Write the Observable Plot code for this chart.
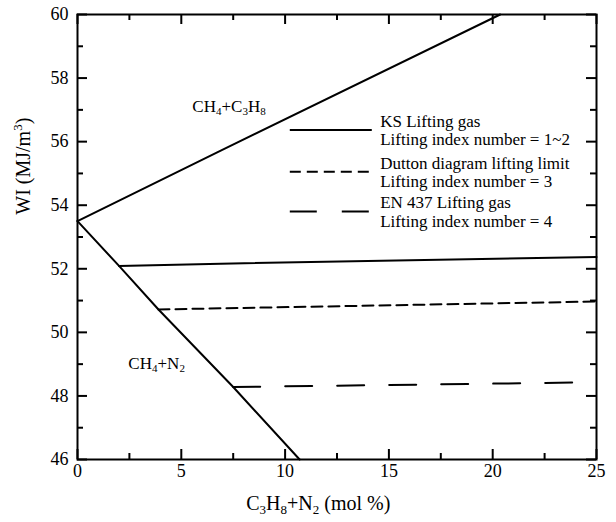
<!DOCTYPE html>
<html><head><meta charset="utf-8">
<script src="https://cdn.jsdelivr.net/npm/d3@7"></script>
<script src="https://cdn.jsdelivr.net/npm/@observablehq/plot@0.6"></script>
<style>
body{margin:0;background:#fff}
</style>
</head><body><div id="chart"></div>
<script>
// ---- data ----
const propaneX  = [0, 6.9, 20.36];
const propaneWI = [53.5, 55.72, 60];
const nitrogenX  = [0, 2.0, 3.9, 7.5, 10.7];
const nitrogenWI = [53.5, 52.09, 50.72, 48.28, 46];
const ksX  = [2.0, 6.9, 25];
const ksWI = [52.09, 52.16, 52.37];
const duttonX  = [3.9, 25];
const duttonWI = [50.72, 50.97];
const enX  = [7.5, 25];
const enWI = [48.28, 48.43];
const legendLabels = [
  "KS Lifting gas\nLifting index number = 1~2",
  "Dutton diagram lifting limit\nLifting index number = 3",
  "EN 437 Lifting gas\nLifting index number = 4"
];
const curveLabels = ["CH_4+C_3H_8", "CH_4+N_2"];
const xTicks = [0, 5, 10, 15, 20, 25];
const xMinor = [2.5, 7.5, 12.5, 17.5, 22.5];
const yTicks = [46, 48, 50, 52, 54, 56, 58, 60];
const yMinor = [47, 49, 51, 53, 55, 57, 59];
const xTitle = "C_3H_8+N_2 (mol %)";
const yTitle = "WI (MJ/m^3)";

// ---- layout (not data) ----
const FONT = '"Liberation Serif","Times New Roman",serif';
const W = 616, H = 522, mL = 77, mR = 20, mT = 14, mB = 63;
const pw = W - mL - mR, ph = H - mT - mB;
const styles = ["none", "11,6", "27,25"];
const legendLayout = {lineX1: 10.25, lineX2: 14.2, textX: 14.58, ys: [56.37, 55.05, 53.8]};
const labelLayout = [{x: 5.53, y: 56.92}, {x: 2.45, y: 48.86}];

const toRows = (xs, ys) => xs.map((x, i) => ({x, y: ys[i]}));
const series = [
  {rows: toRows(ksX, ksWI), dash: styles[0]},
  {rows: toRows(duttonX, duttonWI), dash: styles[1]},
  {rows: toRows(enX, enWI), dash: styles[2]}
];
const legendRows = legendLabels.map((t, i) => ({text: t, y: legendLayout.ys[i], x1: legendLayout.lineX1, x2: legendLayout.lineX2, x: legendLayout.textX, dash: styles[i]}));

const marks = [
  Plot.line(toRows(propaneX, propaneWI), {x: "x", y: "y", stroke: "#000", strokeWidth: 2}),
  Plot.line(toRows(nitrogenX, nitrogenWI), {x: "x", y: "y", stroke: "#000", strokeWidth: 2}),
  ...series.map(s => Plot.line(s.rows, {x: "x", y: "y", stroke: "#000", strokeWidth: 2, strokeDasharray: s.dash === "none" ? null : s.dash})),
  ...legendRows.map(r => Plot.ruleY([r], {y: "y", x1: "x1", x2: "x2", stroke: "#000", strokeWidth: 2, strokeDasharray: r.dash === "none" ? null : r.dash})),
  Plot.text(legendRows, {x: "x", y: "y", text: "text", textAnchor: "start", lineAnchor: "middle", lineHeight: 1.08, fontSize: 17, fill: "#000"}),
  Plot.text(curveLabels.map((t, i) => ({t, ...labelLayout[i]})), {x: "x", y: "y", text: "t", textAnchor: "start", lineAnchor: "bottom", fontSize: 17, fill: "#000"}),
  // ticks inward on four sides
  Plot.tickY(yTicks, {y: d => d, insetRight: pw - 10, stroke: "#000", strokeWidth: 2}),
  Plot.tickY(yMinor, {y: d => d, insetRight: pw - 6, stroke: "#000", strokeWidth: 2}),
  Plot.tickY(yTicks, {y: d => d, insetLeft: pw - 10, stroke: "#000", strokeWidth: 2}),
  Plot.tickY(yMinor, {y: d => d, insetLeft: pw - 6, stroke: "#000", strokeWidth: 2}),
  Plot.tickX(xTicks, {x: d => d, insetTop: ph - 10, stroke: "#000", strokeWidth: 2}),
  Plot.tickX(xMinor, {x: d => d, insetTop: ph - 6, stroke: "#000", strokeWidth: 2}),
  Plot.tickX(xTicks, {x: d => d, insetBottom: ph - 10, stroke: "#000", strokeWidth: 2}),
  Plot.tickX(xMinor, {x: d => d, insetBottom: ph - 6, stroke: "#000", strokeWidth: 2}),
  Plot.frame({stroke: "#000", strokeWidth: 2}),
  Plot.axisX({ticks: xTicks, tickSize: 0, tickPadding: 5, fontSize: 18, label: null, tickFormat: d => String(d)}),
  Plot.axisY({ticks: yTicks, tickSize: 0, tickPadding: 9, fontSize: 18, label: null, tickFormat: d => String(d)}),
  Plot.text([xTitle], {x: 11.6, frameAnchor: "bottom", text: d => d, dy: 44, lineAnchor: "middle", fontSize: 20, fill: "#000"}),
  Plot.text([yTitle], {y: 53.7, frameAnchor: "left", text: d => d, dx: -54, rotate: -90, lineAnchor: "middle", fontSize: 20, fill: "#000"})
];

const chart = Plot.plot({
  width: W, height: H,
  marginLeft: mL, marginRight: mR, marginTop: mT, marginBottom: mB,
  x: {domain: [0, 25]},
  y: {domain: [46, 60]},
  style: {color: "#000", background: "#fff"},
  marks
});
document.getElementById("chart").appendChild(chart);

const NS = "http://www.w3.org/2000/svg";
// rebuild every text as tspans (sub/superscripts as real tspans), serif font on each
chart.querySelectorAll("text").forEach(el => {
  el.style.fontFamily = FONT;
  const existing = el.querySelectorAll("tspan");
  if (existing.length) { existing.forEach(ts => ts.style.fontFamily = FONT); return; }
  const s = el.textContent;
  el.textContent = "";
  const re = /([_^])(\d)|([^_^]+)/g; let m;
  while ((m = re.exec(s))) {
    const ts = document.createElementNS(NS, "tspan");
    ts.style.fontFamily = FONT;
    if (m[3]) ts.textContent = m[3];
    else {
      ts.textContent = m[2];
      ts.setAttribute("font-size", "0.65em");
      ts.setAttribute("baseline-shift", m[1] === "_" ? "-0.3em" : "0.6em");
    }
    el.appendChild(ts);
  }
});
</script>
</body></html>
